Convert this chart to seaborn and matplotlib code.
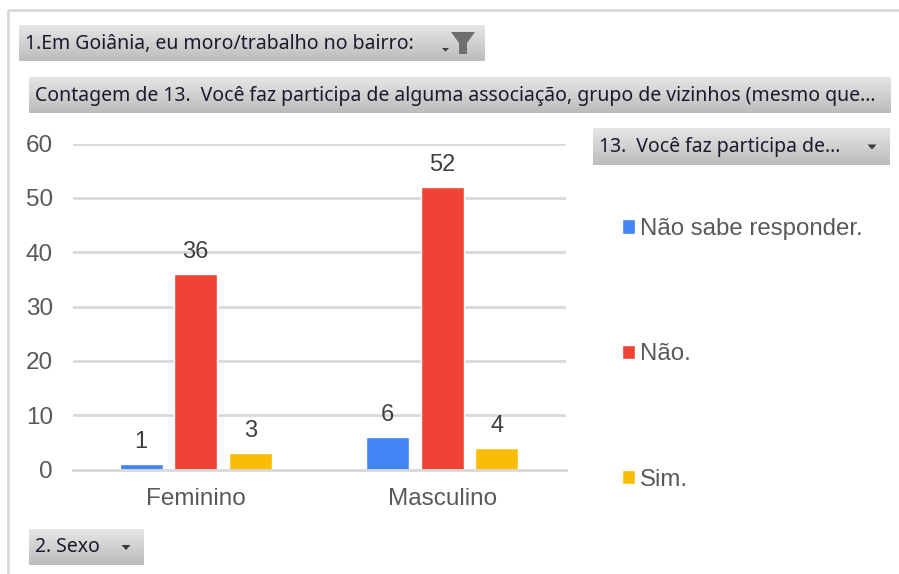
import numpy as np
import pandas as pd
import seaborn as sns
import matplotlib.pyplot as plt
from matplotlib.patches import Polygon, Rectangle

W, H = 899, 574

# data
sexo = ["Feminino", "Masculino"]
resposta = ["Não sabe responder.", "Não.", "Sim."]
nao_sabe = [1, 6]
nao = [36, 52]
sim = [3, 4]
y_ticks = [0, 10, 20, 30, 40, 50, 60]
cores = ["#4285F4", "#EE4335", "#FBBC04"]

titulo = "Contagem de 13.  Você faz participa de alguma associação, grupo de vizinhos (mesmo que..."
filtro_bairro = "1.Em Goiânia, eu moro/trabalho no bairro:"
filtro_legenda = "13.  Você faz participa de..."
filtro_sexo = "2. Sexo"

df = pd.DataFrame({
    "sexo": sexo * 3,
    "resposta": np.repeat(resposta, 2),
    "total": nao_sabe + nao + sim,
})

sns.set_theme(style="white")
plt.rcParams["font.family"] = ["Liberation Sans", "DejaVu Sans"]

fig = plt.figure(figsize=(W / 100, H / 100), dpi=100, facecolor="white")


def px_axes(x0, y0, x1, y1, **kw):
    # axes placed with pixel coordinates, y measured from the top
    return fig.add_axes([x0 / W, 1 - y1 / H, (x1 - x0) / W, (y1 - y0) / H], **kw)


def button(x0, y0, x1, y1, label, arrow_x=None):
    """Grey pivot-chart field button with a vertical gradient."""
    b = px_axes(x0, y0, x1, y1)
    grad = np.linspace(0, 1, 64).reshape(-1, 1)
    b.imshow(grad, aspect="auto", cmap=plt.cm.colors.LinearSegmentedColormap.from_list("btn", ["#E6E6E6", "#BCBCBC"]),
             extent=(x0, x1, y1, y0), vmin=0, vmax=1)
    b.set_xlim(x0, x1)
    b.set_ylim(y1, y0)
    b.axis("off")
    b.text(x0 + 6, (y0 + y1) / 2 + 0.5, label, fontsize=14, color="#1A1A2A",
           family=["Noto Sans", "DejaVu Sans"], va="center", ha="left")
    if arrow_x is not None:
        ym = (y0 + y1) / 2
        b.add_patch(Polygon([[arrow_x - 4.5, ym - 2], [arrow_x + 4.5, ym - 2], [arrow_x, ym + 3]],
                            color="#3A3A3A", lw=0))
    return b


# outer chart frame
frame = px_axes(0, 0, W, H)
frame.set_xlim(0, W)
frame.set_ylim(H, 0)
frame.axis("off")
frame.add_patch(Rectangle((7.5, 9.5), W + 10, H + 10, fill=False, ec="#D9D9D9", lw=2))

# chart
ax = px_axes(72.5, 143.5, 565.5, 469.5)
sns.barplot(data=df, x="sexo", y="total", hue="resposta", order=sexo, hue_order=resposta,
            palette=cores, width=0.663, gap=0.21, saturation=1, legend=True, ax=ax)
ax.set_ylim(0, 60)
ax.set_yticks(y_ticks)
ax.set_xlabel("")
ax.set_ylabel("")
ax.patch.set_alpha(0)
ax.yaxis.grid(True, color="#D9D9D9", lw=2)
ax.set_axisbelow(True)
sns.despine(ax=ax, left=True, top=True, right=True)
ax.spines["bottom"].set_color("#D9D9D9")
ax.spines["bottom"].set_linewidth(2)
ax.tick_params(axis="y", labelsize=17.5, labelcolor="#595959", length=0, pad=14)
ax.tick_params(axis="x", labelsize=17.5, labelcolor="#595959", length=0, pad=13)

for cont in ax.containers:
    ax.bar_label(cont, padding=8, fontsize=17, color="#404040")

handles, labels = ax.get_legend_handles_labels()
ax.get_legend().remove()
fig.legend(handles, labels, loc="upper left", bbox_to_anchor=(622 / W, 1 - 218 / H), frameon=False,
           fontsize=17.3, labelcolor="#595959", handlelength=0.54, handleheight=0.54,
           handletextpad=0.2, labelspacing=4.3, borderpad=0, borderaxespad=0)

# field buttons
button(19, 25, 484, 61, filtro_bairro)
button(29, 77, 891, 113, titulo)
button(593, 128, 890, 165, filtro_legenda, arrow_x=872)
button(29, 529, 144, 565, filtro_sexo, arrow_x=126)

# filter icon of the first button
frame2 = px_axes(0, 0, W, H)
frame2.set_xlim(0, W)
frame2.set_ylim(H, 0)
frame2.axis("off")
frame2.patch.set_alpha(0)
frame2.add_patch(Polygon([[451, 32], [475, 32], [467, 43], [467, 54], [459, 54], [459, 43]], color="#6E6E6E", lw=0))
frame2.add_patch(Polygon([[442, 48], [449, 48], [445.5, 51.5]], color="#3A3A3A", lw=0))

fig.savefig("out.png", dpi=100)
